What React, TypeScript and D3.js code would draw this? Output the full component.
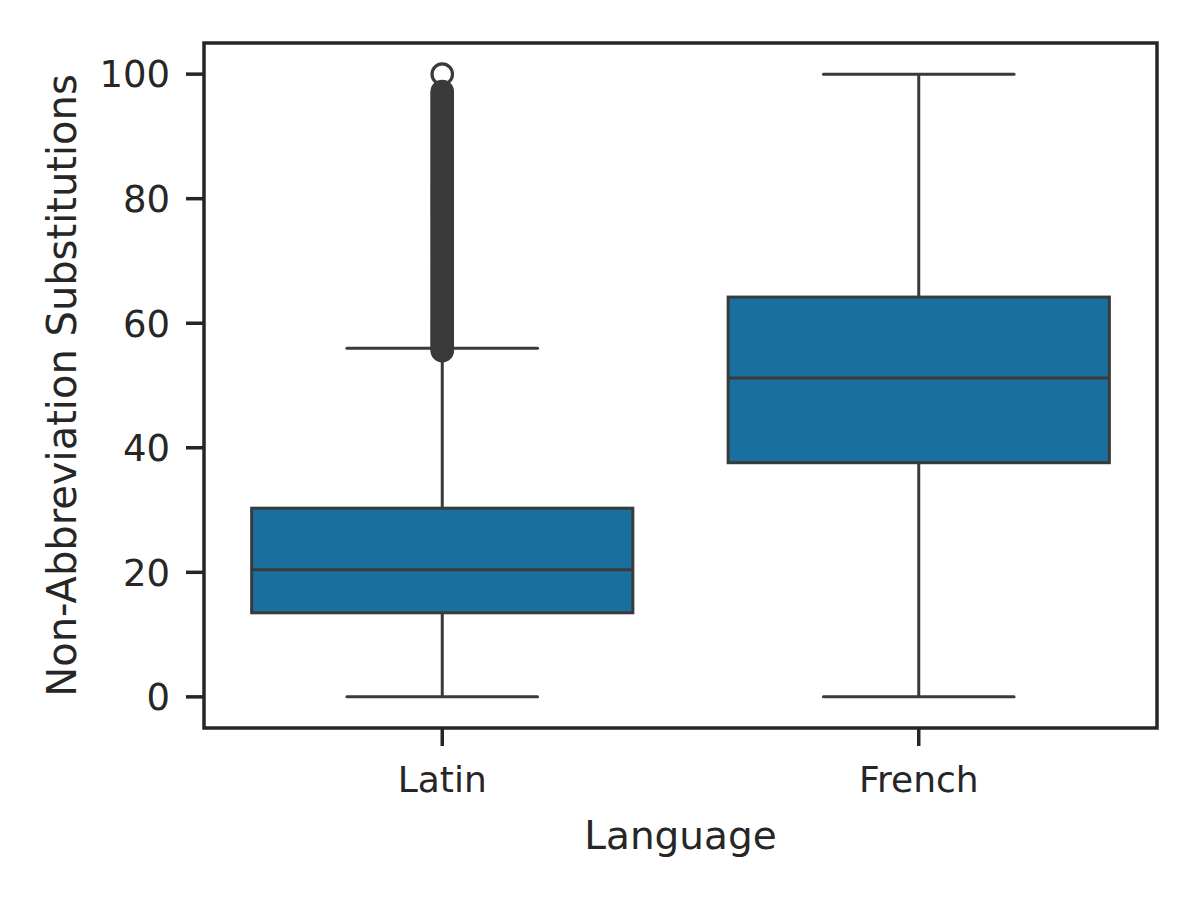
import React from "react";
import * as d3 from "d3";

const categories = ["Latin", "French"];
const q1 = [13.5, 37.6];
const medians = [20.4, 51.2];
const q3 = [30.3, 64.2];
const whiskLow = [0, 0];
const whiskHigh = [56.0, 100];
const latinOutliers = [
  55.6, 56.0, 56.4, 56.8, 57.2, 57.6, 58.0, 58.4, 58.8, 59.2, 59.6, 60.0, 60.4, 60.8,
  61.2, 61.6, 62.0, 62.4, 62.8, 63.2, 63.6, 64.0, 64.4, 64.8, 65.2, 65.6, 66.0, 66.4,
  66.8, 67.2, 67.6, 68.0, 68.4, 68.8, 69.2, 69.6, 70.0, 70.4, 70.8, 71.2, 71.6, 72.0,
  72.4, 72.8, 73.2, 73.6, 74.0, 74.4, 74.8, 75.2, 75.6, 76.0, 76.4, 76.8, 77.2, 77.6,
  78.0, 78.4, 78.8, 79.2, 79.6, 80.0, 80.4, 80.8, 81.2, 81.6, 82.0, 82.4, 82.8, 83.2,
  83.6, 84.0, 84.4, 84.8, 85.2, 85.6, 86.0, 86.4, 86.8, 87.2, 87.6, 88.0, 88.4, 88.8,
  89.2, 89.6, 90.0, 90.4, 90.8, 91.2, 91.6, 92.0, 92.4, 92.8, 93.2, 93.6, 94.0, 94.4,
  94.8, 95.2, 95.6, 96.0, 96.4, 96.8, 97.2, 100,
];
const outliers = [latinOutliers, [] as number[]];
const yTicks = [0, 20, 40, 60, 80, 100];

const W = 1200;
const H = 900;
const left = 204;
const right = 1157;
const top = 43;
const bottom = 728;

export default function App() {
  const x = d3.scaleBand<string>().domain(categories).range([left, right]).paddingInner(0).paddingOuter(0);
  const y = d3.scaleLinear().domain([-5, 105]).range([bottom, top]);
  const bw = x.bandwidth() * 0.8;
  const lineColor = "#3a3a3a";
  const axisColor = "#262626";
  const fill = "#196f9d";
  const font = "DejaVu Sans, sans-serif";

  return (
    <svg width={W} height={H} style={{ position: "absolute", left: 0, top: 0, background: "#fff" }} fontFamily={font}>
      {categories.map((c, i) => {
        const cx = (x(c) as number) + x.bandwidth() / 2;
        return (
          <g key={c}>
            <line x1={cx} x2={cx} y1={y(whiskLow[i])} y2={y(q1[i])} stroke={lineColor} strokeWidth={3} />
            <line x1={cx} x2={cx} y1={y(q3[i])} y2={y(whiskHigh[i])} stroke={lineColor} strokeWidth={3} />
            <line x1={cx - bw / 4} x2={cx + bw / 4} y1={y(whiskLow[i])} y2={y(whiskLow[i])} stroke={lineColor} strokeWidth={3} strokeLinecap="round" />
            <line x1={cx - bw / 4} x2={cx + bw / 4} y1={y(whiskHigh[i])} y2={y(whiskHigh[i])} stroke={lineColor} strokeWidth={3} strokeLinecap="round" />
            <rect x={cx - bw / 2} y={y(q3[i])} width={bw} height={y(q1[i]) - y(q3[i])} fill={fill} stroke={lineColor} strokeWidth={3} />
            <line x1={cx - bw / 2} x2={cx + bw / 2} y1={y(medians[i])} y2={y(medians[i])} stroke={lineColor} strokeWidth={3} />
            {outliers[i].map((v, j) => (
              <circle key={j} cx={cx} cy={y(v)} r={10.2} fill="none" stroke={lineColor} strokeWidth={3.2} />
            ))}
          </g>
        );
      })}
      <rect x={left} y={top} width={right - left} height={bottom - top} fill="none" stroke={axisColor} strokeWidth={3.5} />
      {yTicks.map((t) => (
        <g key={t}>
          <line x1={left - 18} x2={left} y1={y(t)} y2={y(t)} stroke={axisColor} strokeWidth={3.5} />
          <text x={left - 34} y={y(t)} dy="0.36em" textAnchor="end" fontSize={37} fill={axisColor}>
            {t}
          </text>
        </g>
      ))}
      {categories.map((c) => {
        const cx = (x(c) as number) + x.bandwidth() / 2;
        return (
          <g key={c}>
            <line x1={cx} x2={cx} y1={bottom} y2={bottom + 18} stroke={axisColor} strokeWidth={3.5} />
            <text x={cx} y={bottom + 64} textAnchor="middle" fontSize={36} fill={axisColor}>
              {c}
            </text>
          </g>
        );
      })}
      <text x={(left + right) / 2} y={849} textAnchor="middle" fontSize={39} fill={axisColor}>
        Language
      </text>
      <text
        transform={`translate(76, ${(top + bottom) / 2}) rotate(-90)`}
        textAnchor="middle"
        fontSize={40}
        fill={axisColor}
      >
        Non-Abbreviation Substitutions
      </text>
    </svg>
  );
}
